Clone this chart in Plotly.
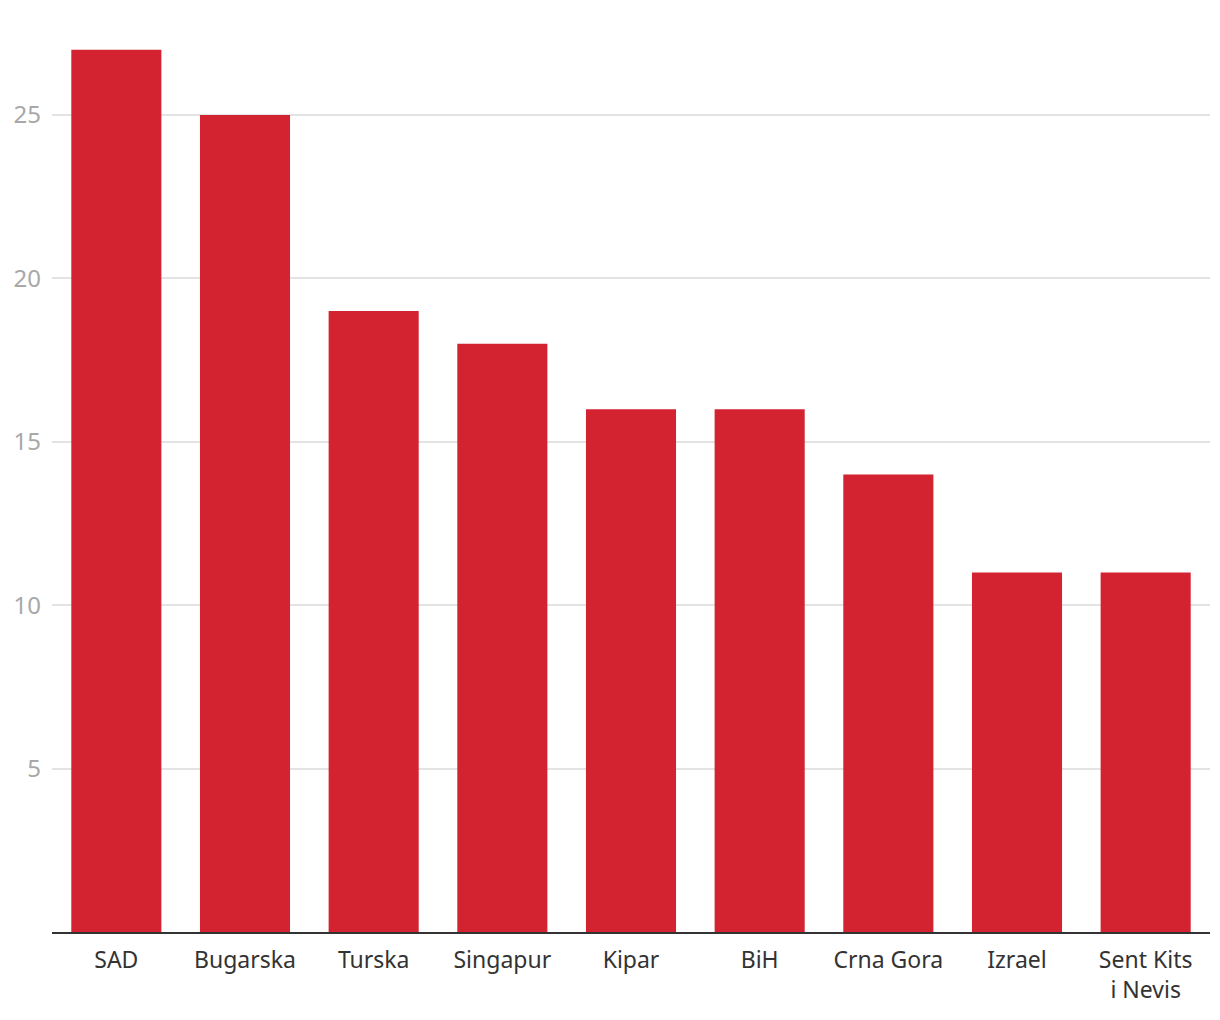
import plotly.graph_objects as go

categories = ["SAD", "Bugarska", "Turska", "Singapur", "Kipar", "BiH", "Crna Gora", "Izrael", "Sent Kits<br>i Nevis"]
values = [27, 25, 19, 18, 16, 16, 14, 11, 11]
y_ticks = [5, 10, 15, 20, 25]

fig = go.Figure(go.Bar(
    x=categories, y=values,
    marker=dict(color="#d32331", line=dict(width=0)),
    hoverinfo="x+y",
))

fig.update_layout(
    width=1220, height=1020,
    margin=dict(l=44, r=18, t=10, b=96),
    paper_bgcolor="white", plot_bgcolor="white",
    bargap=0.30,
    showlegend=False,
    font=dict(family="Noto Sans", size=23, color="#333333"),
    xaxis=dict(
        showgrid=False, showline=True, linecolor="#333333", linewidth=2,
        ticks="", tickfont=dict(size=23, color="#333333"),
        ticklabelstandoff=6, automargin=False,
    ),
    yaxis=dict(
        range=[0, 27.97], tickvals=y_ticks, showgrid=True, gridcolor="#e3e3e3", gridwidth=1.5,
        zeroline=False, showline=False, ticks="",
        tickfont=dict(size=24, color="#a8a8a8"),
        ticklabelstandoff=10, automargin=False,
    ),
)

fig.write_html("out.html")
